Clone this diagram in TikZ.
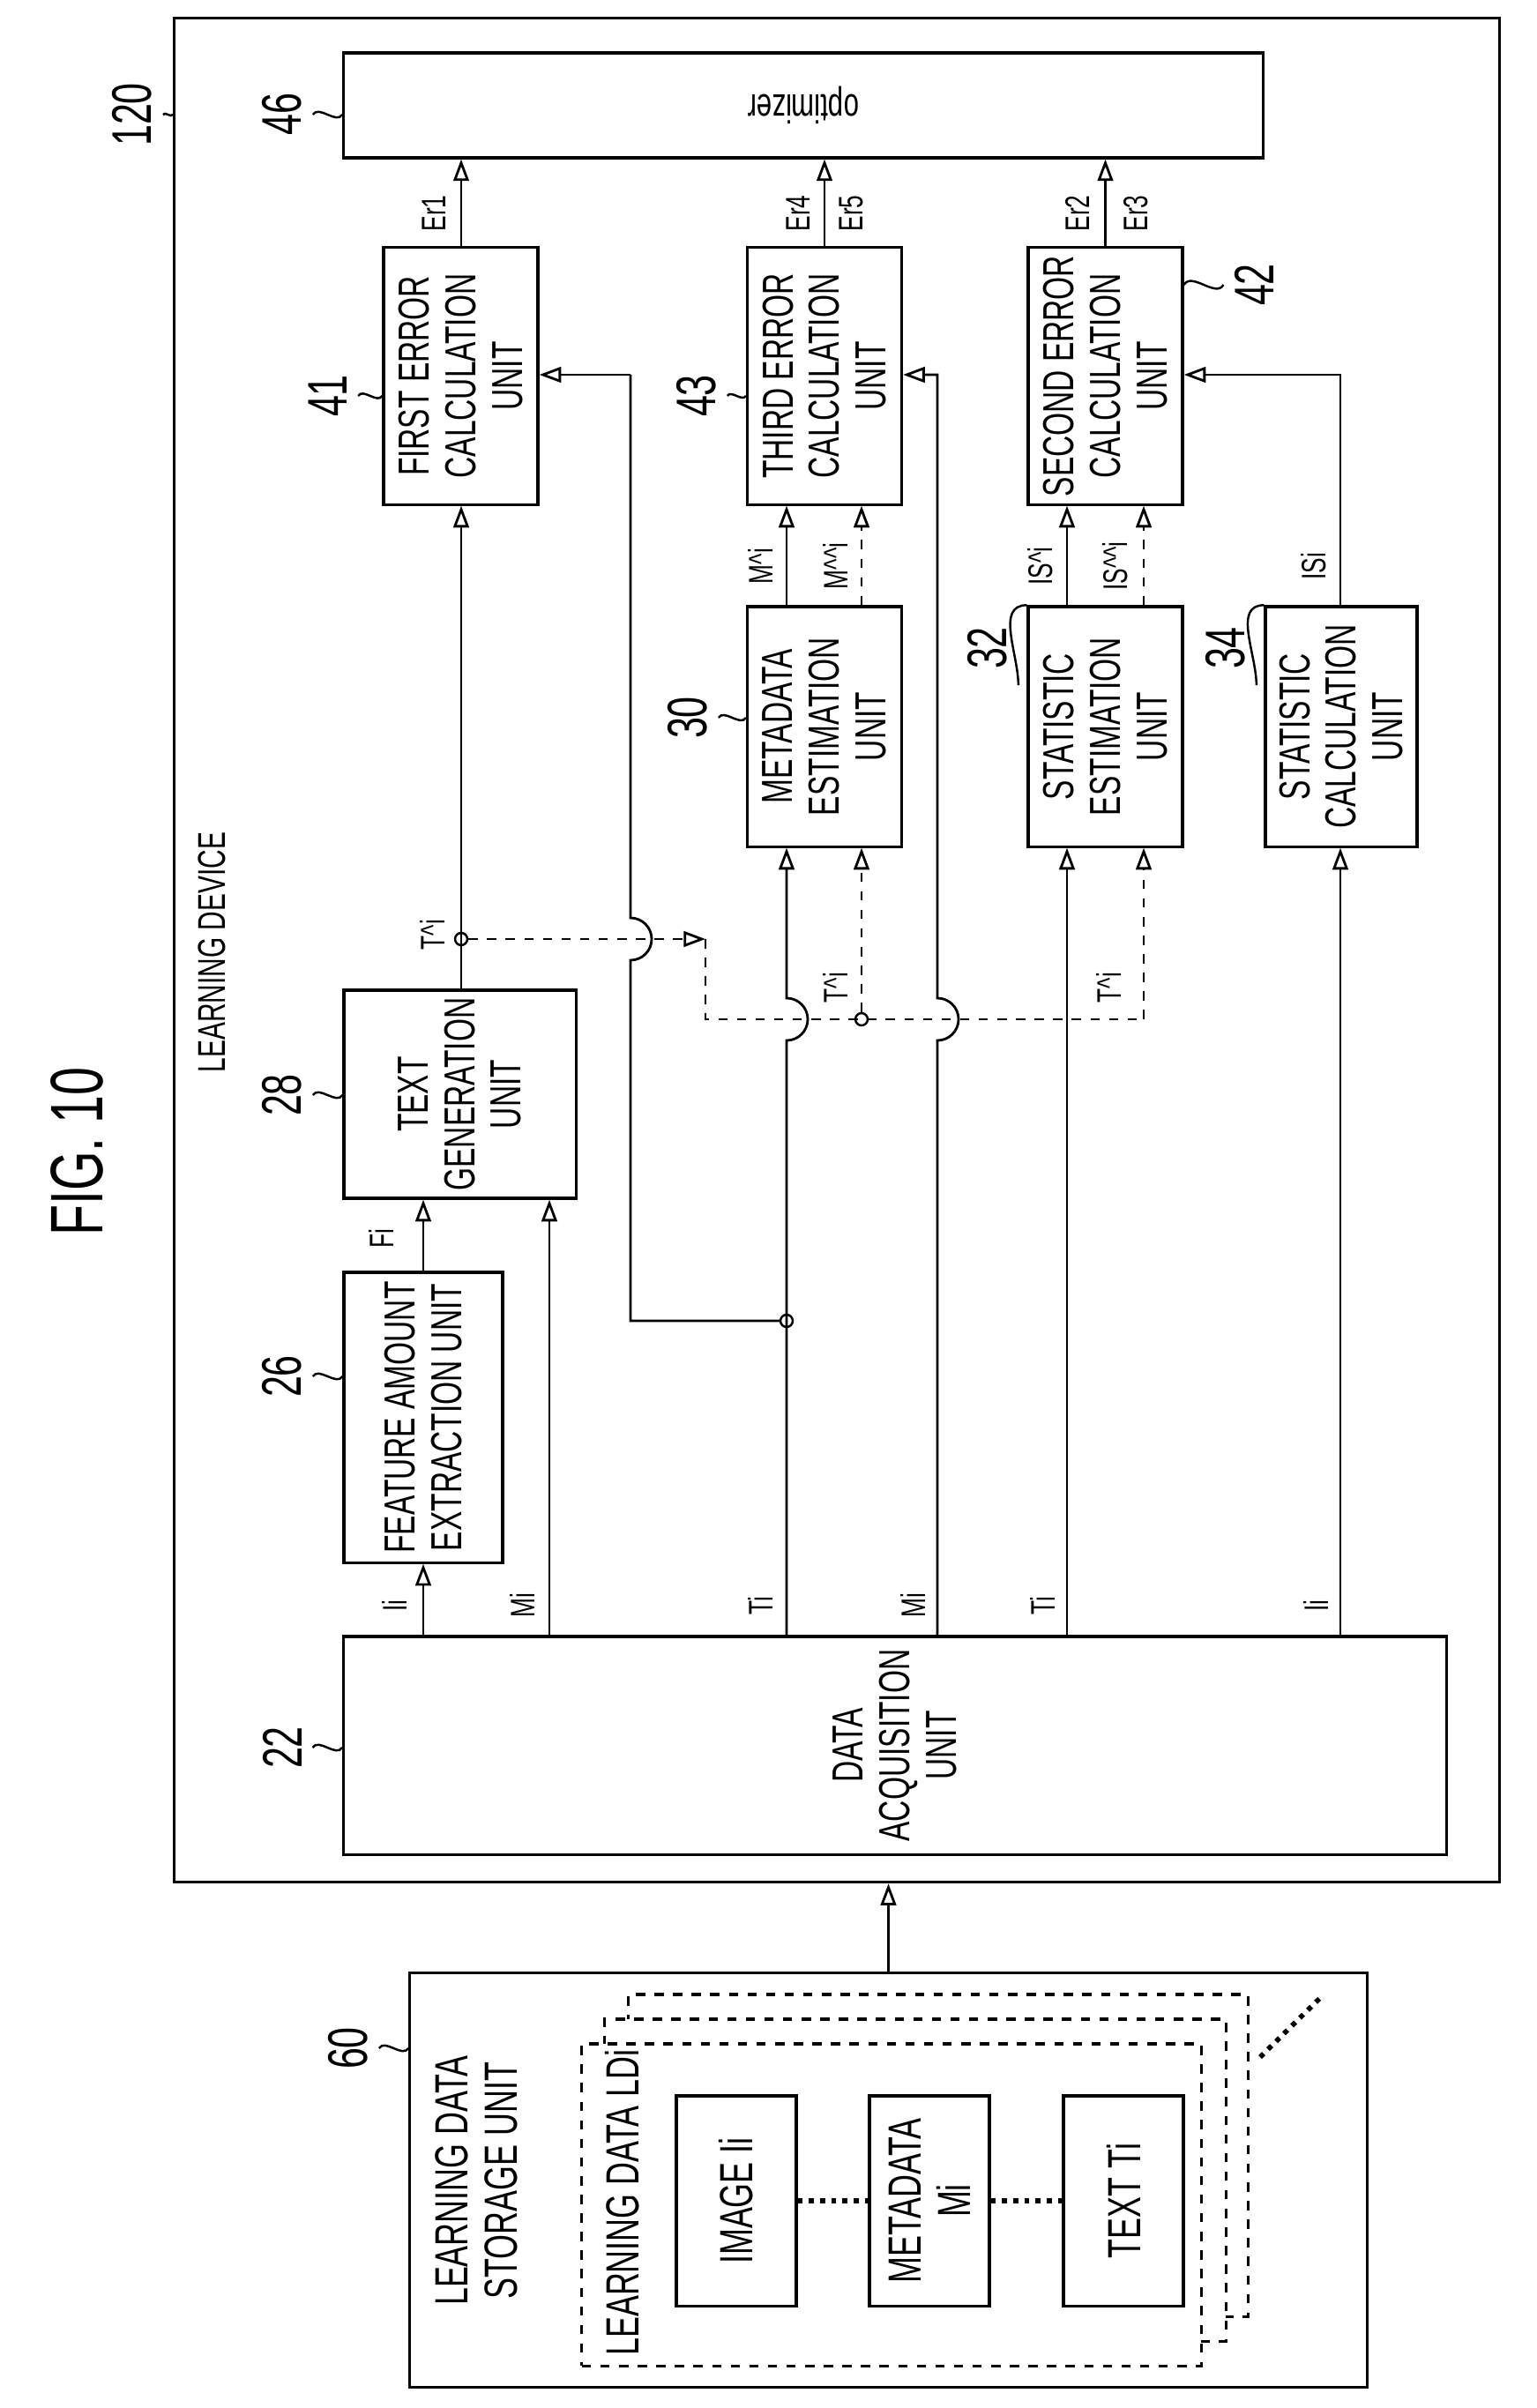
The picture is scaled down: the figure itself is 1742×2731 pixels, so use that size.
\documentclass[tikz,border=0pt]{standalone}
\usepackage{fontspec}
\setmainfont{Liberation Sans}
\newfontfamily\unitfont[FakeStretch=0.68]{Liberation Sans}
\usetikzlibrary{arrows.meta}
\tikzset{
  unit/.style={draw, line width=0.9pt, rotate=90, align=center, inner sep=0pt,
    font=\unitfont\fontsize{14}{15}\selectfont},
  frame/.style={draw, line width=0.9pt, inner sep=0pt},
  card/.style={draw, dashed, line width=0.9pt, fill=white, inner sep=0pt},
  ref/.style={rotate=90, font=\unitfont\fontsize{18}{18}\selectfont},
  sig/.style={rotate=90, font=\unitfont\fontsize{11}{11}\selectfont},
  lead/.style={line width=0.7pt},
  arr/.style={line width=0.8pt, -{Triangle[open,length=7pt,width=5pt]}},
  flow/.style={line width=0.8pt},
  jdot/.style={circle, draw, fill=white, line width=0.7pt, inner sep=1.4pt},
}
\newcommand\crt{\textasciicircum}
\begin{document}
\begin{tikzpicture}[x=0.01cm, y=-0.01cm]
  \useasboundingbox (0,0) rectangle (1742,2731);

  % Titulo
  \node[rotate=90, font=\unitfont\fontsize{24}{24}\selectfont] (fig) at (87,1306) {FIG. 10};

  % Dispositivo de aprendizaje
  \node[frame, minimum width=15.02cm, minimum height=21.13cm] (dev) at (949,1077.5) {};
  \node[rotate=90, font=\unitfont\fontsize{12.5}{13}\selectfont] (devtxt) at (240,1080) {LEARNING DEVICE};

  % Bloques
  \node[frame, rotate=180, minimum width=10.42cm, minimum height=1.19cm,
        font=\unitfont\fontsize{13}{14}\selectfont] (opt) at (911,119.5) {optimizer};
  \node[unit, minimum width=2.91cm, minimum height=1.75cm] (err1) at (522.5,426.5) {FIRST ERROR\\CALCULATION\\UNIT};
  \node[unit, minimum width=2.91cm, minimum height=1.75cm] (err3) at (935,426.5) {THIRD ERROR\\CALCULATION\\UNIT};
  \node[unit, minimum width=2.91cm, minimum height=1.75cm] (err2) at (1253.5,426.5) {SECOND ERROR\\CALCULATION\\UNIT};
  \node[unit, minimum width=2.72cm, minimum height=1.75cm] (mest) at (935,824) {METADATA\\ESTIMATION\\UNIT};
  \node[unit, minimum width=2.72cm, minimum height=1.75cm] (sest) at (1253.5,824) {STATISTIC\\ESTIMATION\\UNIT};
  \node[unit, minimum width=2.72cm, minimum height=1.72cm] (scalc) at (1521,824) {STATISTIC\\CALCULATION\\UNIT};
  \node[unit, minimum width=2.36cm, minimum height=2.63cm] (tgen) at (521.5,1241) {TEXT\\GENERATION\\UNIT};
  \node[unit, minimum width=3.29cm, minimum height=1.80cm] (feat) at (480,1607.5) {FEATURE AMOUNT\\EXTRACTION UNIT};
  \node[unit, minimum width=2.47cm, minimum height=12.5cm] (acq) at (1015,1979.5) {DATA\\ACQUISITION\\UNIT};

  % Almacenamiento de datos
  \node[frame, minimum width=10.85cm, minimum height=4.69cm] (store) at (1007.5,2472.5) {};
  \node[rotate=90, align=center, font=\unitfont\fontsize{15}{16}\selectfont] (storetxt) at (540,2473) {LEARNING DATA\\STORAGE UNIT};
  \node[card, minimum width=7.02cm, minimum height=3.65cm] (card3) at (1064,2444.5) {};
  \node[card, minimum width=7.04cm, minimum height=3.65cm] (card2) at (1038,2472.5) {};
  \node[card, minimum width=7.02cm, minimum height=3.65cm] (card1) at (1011,2500.5) {};
  \node[rotate=90, font=\unitfont\fontsize{15}{16}\selectfont] (ldtxt) at (706,2498) {LEARNING DATA LDi};
  \node[unit, minimum width=2.38cm, minimum height=1.36cm, font=\unitfont\fontsize{15}{16}\selectfont] (img) at (835,2496) {IMAGE Ii};
  \node[unit, minimum width=2.38cm, minimum height=1.36cm, font=\unitfont\fontsize{15}{16}\selectfont] (meta) at (1054,2496) {METADATA\\Mi};
  \node[unit, minimum width=2.38cm, minimum height=1.36cm, font=\unitfont\fontsize{15}{16}\selectfont] (txt) at (1274,2496) {TEXT Ti};
  \draw[dotted, line width=1.6pt] (img.south) -- (meta.north);
  \draw[dotted, line width=1.6pt] (meta.south) -- (txt.north);
  \coordinate (dots1) at (1429,2333);
  \coordinate (dots2) at (1499,2264);
  \draw[dotted, line width=1.6pt] (dots1) -- (dots2);

  % Numeros de referencia
  \node[ref] (l120) at (150,130) {120};
  \node[ref] (l46) at (320,130) {46};
  \node[ref] (l41) at (372,449) {41};
  \node[ref] (l43) at (790,449) {43};
  \node[ref] (l42) at (1422,323) {42};
  \node[ref] (l30) at (780,814) {30};
  \node[ref] (l32) at (1120,735) {32};
  \node[ref] (l34) at (1390,735) {34};
  \node[ref] (l28) at (320,1242) {28};
  \node[ref] (l26) at (320,1561) {26};
  \node[ref] (l22) at (320,1982) {22};
  \node[ref] (l60) at (395,2323) {60};
  \draw[lead] (l120.south) to[out=60,in=240] (dev.west |- l120);
  \draw[lead] (l46.south) to[out=60,in=240] (opt.east |- l46);
  \draw[lead] (l41.south) to[out=60,in=240] (err1.north |- l41);
  \draw[lead] (l43.south) to[out=60,in=240] (err3.north |- l43);
  \draw[lead] (err2.south |- l42) to[out=60,in=240] (l42.north);
  \draw[lead] (l30.south) to[out=60,in=240] (mest.north |- l30);
  \draw[lead] ([yshift=-12pt]l32.south) to[out=90,in=180] (sest.north east);
  \draw[lead] ([yshift=-12pt]l34.south) to[out=90,in=180] (scalc.north east);
  \draw[lead] (l28.south) to[out=60,in=240] (tgen.north |- l28);
  \draw[lead] (l26.south) to[out=60,in=240] (feat.north |- l26);
  \draw[lead] (l22.south) to[out=60,in=240] (acq.north |- l22);
  \draw[lead] (l60.south) to[out=60,in=240] (store.west |- l60);

  % Columnas y filas de las lineas
  \coordinate (xI1) at (480,0);
  \coordinate (xM1) at (623,0);
  \coordinate (xE1) at (523,0);
  \coordinate (xRet) at (715,0);
  \coordinate (xT1) at (892,0);
  \coordinate (xD1) at (977,0);
  \coordinate (xM2) at (1063,0);
  \coordinate (xT2) at (1210,0);
  \coordinate (xD2) at (1297,0);
  \coordinate (xI2) at (1520,0);
  \coordinate (xE3) at (935,0);
  \coordinate (xE2) at (1253.5,0);
  \coordinate (ySide) at (0,425);
  \coordinate (yTop) at (0,1065);
  \coordinate (yBot) at (0,1156);

  % Nodos de union
  \node[jdot] (jT) at (523,1065) {};
  \node[jdot] (jB) at (977,1156) {};
  \node[jdot] (jM) at (892,1498) {};
  \coordinate (cDn) at (800,1065);
  \coordinate (cDb) at (800,1156);
  \coordinate (hop0) at (715,1065);
  \coordinate (hop1) at (892,1156);
  \coordinate (hop2) at (1063,1156);

  % Conexiones desde la adquisicion de datos
  \draw[arr] (acq.east -| xI1) -- (feat.west -| xI1);
  \draw[arr] (feat.east -| xI1) -- (tgen.west -| xI1);
  \draw[arr] (acq.east -| xM1) -- (tgen.west -| xM1);
  \draw[arr] (acq.east -| xT1) -- ([yshift=-0.24cm]hop1) arc[start angle=-90, end angle=90, radius=0.24cm] -- (mest.west -| xT1);
  \draw[arr] (acq.east -| xM2) -- ([yshift=-0.24cm]hop2) arc[start angle=-90, end angle=90, radius=0.24cm] -- (xM2 |- ySide) -- (err3.south |- ySide);
  \draw[arr] (acq.east -| xT2) -- (sest.west -| xT2);
  \draw[arr] (acq.east -| xI2) -- (scalc.west -| xI2);
  \draw[flow] (jM) -- (xRet |- jM) -- ([yshift=-0.24cm]hop0) arc[start angle=-90, end angle=90, radius=0.24cm] -- (xRet |- ySide);
  \draw[arr] (xRet |- ySide) -- (err1.south |- ySide);
  \draw[arr] (scalc.east -| xI2) -- (xI2 |- ySide) -- (err2.south |- ySide);

  % Texto generado
  \draw[arr] (tgen.east -| xE1) -- (err1.west -| xE1);
  \draw[arr, dashed] (jT) -- (cDn);
  \draw[flow, dashed] (cDn) -- (cDb) -- (xD2 |- yBot);
  \draw[arr, dashed] (xD2 |- yBot) -- (sest.west -| xD2);
  \draw[arr, dashed] (jB) -- (mest.west -| xD1);

  % Estimaciones hacia los errores
  \draw[arr] (mest.east -| xT1) -- (err3.west -| xT1);
  \draw[arr, dashed] (mest.east -| xD1) -- (err3.west -| xD1);
  \draw[arr] (sest.east -| xT2) -- (err2.west -| xT2);
  \draw[arr, dashed] (sest.east -| xD2) -- (err2.west -| xD2);

  % Errores hacia el optimizador
  \draw[arr] (err1.east -| xE1) -- (opt.north -| xE1);
  \draw[arr] (err3.east -| xE3) -- (opt.north -| xE3);
  \draw[arr] (err2.east -| xE2) -- (opt.north -| xE2);

  % Almacenamiento hacia el dispositivo
  \draw[arr] (store.north) -- (dev.south -| store.north);

  % Etiquetas de las senales
  \node[sig] (sEr1) at (492,242) {Er1};
  \node[sig] (sEr4) at (905,242) {Er4};
  \node[sig] (sEr5) at (965,242) {Er5};
  \node[sig] (sEr2) at (1222,242) {Er2};
  \node[sig] (sEr3) at (1288,242) {Er3};
  \node[sig] (sMh) at (862,642) {M\crt i};
  \node[sig] (sMhh) at (947,642) {M\crt\crt i};
  \node[sig] (sISh) at (1180,642) {IS\crt i};
  \node[sig] (sIShh) at (1265,642) {IS\crt\crt i};
  \node[sig] (sIS) at (1490,642) {ISi};
  \node[sig] (sTh1) at (490,1060) {T\crt i};
  \node[sig] (sTh2) at (947,1120) {T\crt i};
  \node[sig] (sTh3) at (1257,1120) {T\crt i};
  \node[sig] (sFi) at (432,1405) {Fi};
  \node[sig] (sIi1) at (447,1821) {Ii};
  \node[sig] (sMi1) at (592,1821) {Mi};
  \node[sig] (sTi1) at (862,1821) {Ti};
  \node[sig] (sMi2) at (1035,1821) {Mi};
  \node[sig] (sTi2) at (1182,1821) {Ti};
  \node[sig] (sIi2) at (1492,1821) {Ii};
\end{tikzpicture}
\end{document}
